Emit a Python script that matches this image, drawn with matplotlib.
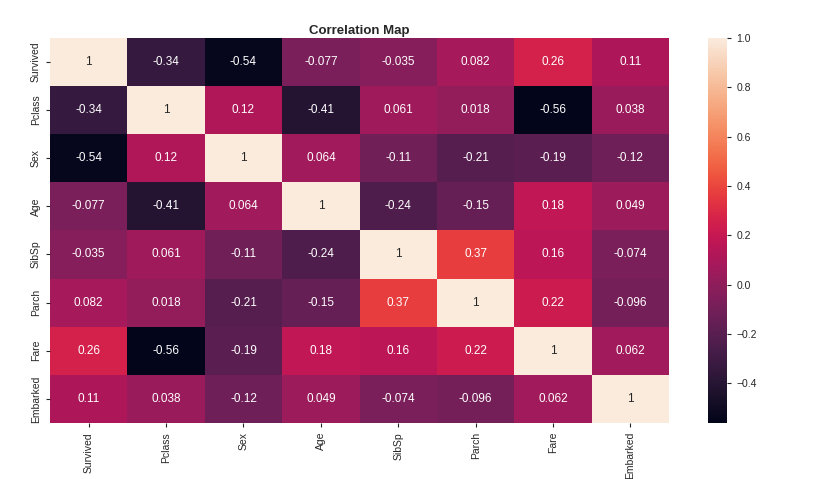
import matplotlib
matplotlib.use("Agg")
import matplotlib.pyplot as plt
import seaborn as sns
import numpy as np
import pandas as pd

# Données de corrélation
cols = ["Survived", "Pclass", "Sex", "Age", "SibSp", "Parch", "Fare", "Embarked"]
survived = [1, -0.34, -0.54, -0.077, -0.035, 0.082, 0.26, 0.11]
pclass = [-0.34, 1, 0.12, -0.41, 0.061, 0.018, -0.56, 0.038]
sex = [-0.54, 0.12, 1, 0.064, -0.11, -0.21, -0.19, -0.12]
age = [-0.077, -0.41, 0.064, 1, -0.24, -0.15, 0.18, 0.049]
sibsp = [-0.035, 0.061, -0.11, -0.24, 1, 0.37, 0.16, -0.074]
parch = [0.082, 0.018, -0.21, -0.15, 0.37, 1, 0.22, -0.096]
fare = [0.26, -0.56, -0.19, 0.18, 0.16, 0.22, 1, 0.062]
embarked = [0.11, 0.038, -0.12, 0.049, -0.074, -0.096, 0.062, 1]

corr = pd.DataFrame([survived, pclass, sex, age, sibsp, parch, fare, embarked],
                    index=cols, columns=cols)

plt.rcParams['font.family'] = ['Liberation Sans', 'DejaVu Sans']
plt.rcParams['text.color'] = '#262626'
plt.rcParams['xtick.color'] = '#262626'
plt.rcParams['ytick.color'] = '#262626'

fig = plt.figure(figsize=(8.16, 4.79), dpi=100)
ax = fig.add_axes([0.0613, 0.117, 0.7587, 0.804])
cax = fig.add_axes([0.868, 0.117, 0.0233, 0.804])

sns.heatmap(corr, annot=True, ax=ax, cbar_ax=cax, annot_kws={'fontsize': 8.5})

ax.set_title("Correlation Map", fontsize=9.5, fontweight='bold', pad=3)
ax.tick_params(axis='both', labelsize=7.5, length=3, width=0.8)
ax.set_xticklabels(cols, rotation=90)
ax.set_yticklabels(cols, rotation=90, va='center')
cax.tick_params(labelsize=7.5, length=3, width=0.8)

fig.savefig("out.png", dpi=100)
